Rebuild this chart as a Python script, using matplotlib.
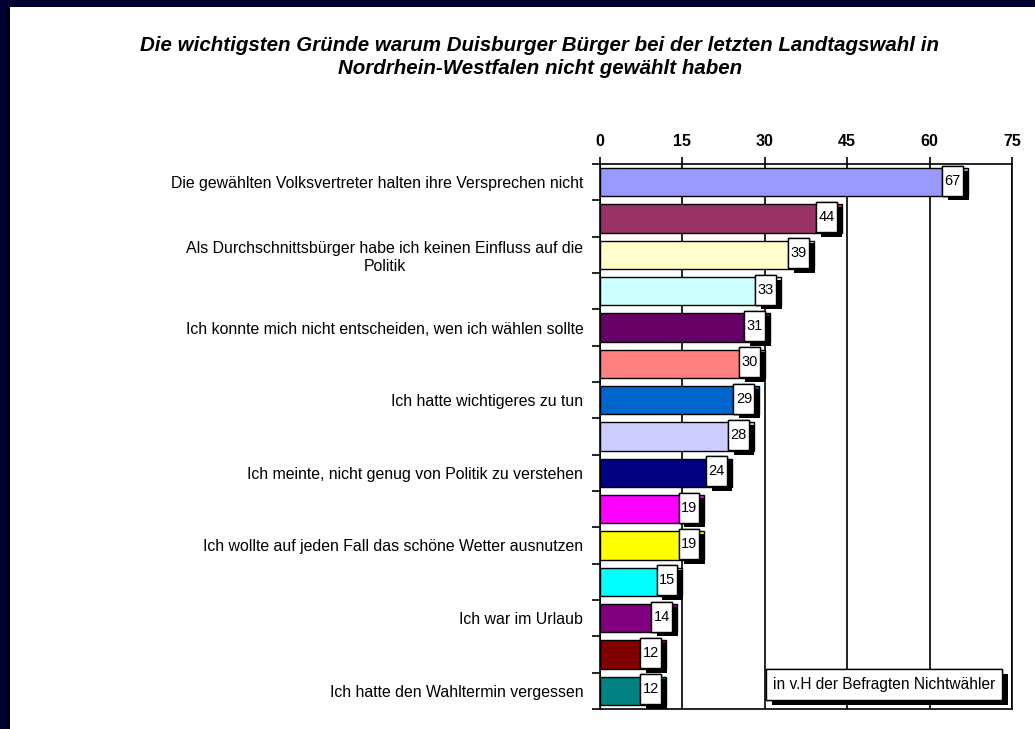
import matplotlib.pyplot as plt
import matplotlib.patheffects as pe
from matplotlib.patches import Rectangle
import numpy as np

plt.rcParams['font.family'] = ['Liberation Sans', 'DejaVu Sans']

# Werte (in v.H.), von oben nach unten
werte = [67, 44, 39, 33, 31, 30, 29, 28, 24, 19, 19, 15, 14, 12, 12]
farben = ['#9999FF', '#993366', '#FFFFCC', '#CCFFFF', '#660066', '#FF8080',
          '#0066CC', '#CCCCFF', '#000080', '#FF00FF', '#FFFF00', '#00FFFF',
          '#800080', '#800000', '#008080']
# nur jede zweite Kategorie ist beschriftet
gruende = ['Die gewählten Volksvertreter halten ihre Versprechen nicht', '',
           'Als Durchschnittsbürger habe ich keinen Einfluss auf die\nPolitik', '',
           'Ich konnte mich nicht entscheiden, wen ich wählen sollte', '',
           'Ich hatte wichtigeres zu tun', '',
           'Ich meinte, nicht genug von Politik zu verstehen', '',
           'Ich wollte auf jeden Fall das schöne Wetter ausnutzen', '',
           'Ich war im Urlaub', '',
           'Ich hatte den Wahltermin vergessen']
xticks = [0, 15, 30, 45, 60, 75]

titel = ('Die wichtigsten Gründe warum Duisburger Bürger bei der letzten Landtagswahl in\n'
         'Nordrhein-Westfalen nicht gewählt haben')
hinweis = 'in v.H der Befragten Nichtwähler'

W, H = 1035, 729
fig = plt.figure(figsize=(W / 100, H / 100), dpi=100)
fig.patch.set_facecolor('white')

# dunkler Rahmen links und oben
fig.patches.append(Rectangle((0, 0), 10 / W, 1, transform=fig.transFigure,
                             facecolor='#000000', edgecolor='none'))
fig.patches.append(Rectangle((0, 0), 7 / W, 1, transform=fig.transFigure,
                             facecolor='#000033', edgecolor='none'))
fig.patches.append(Rectangle((0, 1 - 7 / H), 1, 7 / H, transform=fig.transFigure,
                             facecolor='#000033', edgecolor='none'))

ax = fig.add_axes([600 / W, 20 / H, 412 / W, 545 / H])
y = np.arange(len(werte))
ax.barh(y, werte, height=0.78, color=farben, edgecolor='black', linewidth=1, zorder=2)

ax.set_xlim(0, 75)
ax.set_ylim(len(werte) - 0.5, -0.5)
ax.xaxis.tick_top()
ax.set_xticks(xticks)
ax.set_xticklabels([str(t) for t in xticks], fontsize=11.5, fontweight='bold')
ax.tick_params(axis='x', direction='out', length=5, width=1.2, pad=6)
ax.grid(axis='x', color='black', linewidth=1.2, zorder=1)

# Teilstriche zwischen den Kategorien, Beschriftungen in der Mitte
ax.set_yticks(np.arange(len(werte) + 1) - 0.5)
ax.set_yticklabels([])
ax.tick_params(axis='y', which='major', direction='out', length=6, width=1.2)
ax.set_yticks(y, minor=True)
ax.set_yticklabels(gruende, minor=True, fontsize=11.4)
ax.tick_params(axis='y', which='minor', length=0, pad=12)
for lab in ax.get_yticklabels(minor=True):
    lab.set_multialignment('center')

for sp in ax.spines.values():
    sp.set_linewidth(1.2)

# Wertekästchen am Balkenende mit Schatten
schatten = [pe.withSimplePatchShadow(offset=(4, -3.5), shadow_rgbFace='black', alpha=1), pe.Normal()]
bw = 3.8
for i, v in enumerate(werte):
    r = Rectangle((v - 0.9 - bw, i - 0.45), bw, 0.82, facecolor='white',
                  edgecolor='black', linewidth=1, zorder=4)
    r.set_path_effects(schatten)
    ax.add_patch(r)
    ax.text(v - 0.9 - bw / 2, i - 0.04, str(v), ha='center', va='center',
            fontsize=10.5, zorder=5)

# Hinweiskasten
hx0, hx1 = (766 - 600) / 412 * 75, (1002 - 600) / 412 * 75
r = Rectangle((hx0, 13.4), hx1 - hx0, 0.85, facecolor='white', edgecolor='black',
              linewidth=1, zorder=4)
r.set_path_effects(schatten)
ax.add_patch(r)
ax.text((hx0 + hx1) / 2, 13.83, hinweis, ha='center', va='center', fontsize=11.2, zorder=5)

fig.text(540 / W, 1 - 57 / H, titel, ha='center', va='center', fontsize=14.8,
         fontweight='bold', fontstyle='italic', linespacing=1.3)

fig.savefig('out.png', dpi=100)
